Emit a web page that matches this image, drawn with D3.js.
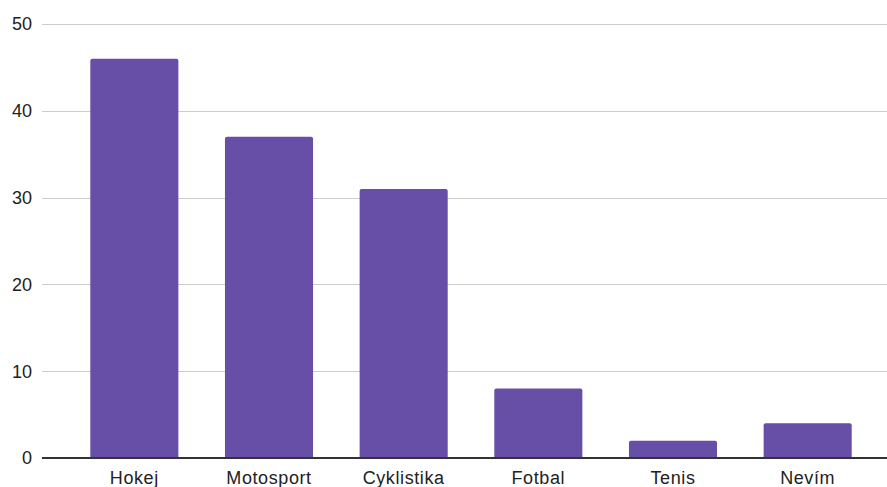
<!DOCTYPE html>
<html>
<head>
<meta charset="utf-8">
<script src="https://cdn.jsdelivr.net/npm/d3@7"></script>
<style>
  body { margin: 0; background: #fff; }
  text { font-family: "Liberation Sans", Arial, sans-serif; fill: #222; }
</style>
</head>
<body>
<div id="chart"></div>
<script>
// data
var categories = ["Hokej", "Motosport", "Cyklistika", "Fotbal", "Tenis", "Nevím"];
var values = [46, 37, 31, 8, 2, 4];
var yTicks = [0, 10, 20, 30, 40, 50];

var W = 887, H = 487;
var left = 42, right = 887, top0 = 24, bottom = 458;

var svg = d3.select("#chart")
  .append("svg")
    .attr("width", W)
    .attr("height", H);

var x = d3.scaleBand()
  .domain(categories)
  .range([67, 875])
  .paddingInner(0.346)
  .paddingOuter(0.173);

var y = d3.scaleLinear()
  .domain([0, 50])
  .range([bottom, top0]);

// gridlines
svg.append("g")
  .selectAll("line")
  .data(yTicks.filter(d => d > 0))
  .enter()
    .append("line")
    .attr("x1", left)
    .attr("x2", right)
    .attr("y1", d => Math.round(y(d)) + 0.5)
    .attr("y2", d => Math.round(y(d)) + 0.5)
    .attr("stroke", "#cccccc")
    .attr("stroke-width", 1);

// y labels
svg.append("g")
  .selectAll("text")
  .data(yTicks)
  .enter()
    .append("text")
    .attr("x", 32)
    .attr("y", d => y(d))
    .attr("dy", "0.35em")
    .attr("text-anchor", "end")
    .style("font-size", "18px")
    .text(d => d);

// bars with slightly rounded tops
function barPath(d, i) {
  var x0 = x(categories[i]), w = x.bandwidth();
  var y0 = y(d), yb = y(0), r = 2;
  return "M" + x0 + "," + yb +
    "V" + (y0 + r) +
    "Q" + x0 + "," + y0 + " " + (x0 + r) + "," + y0 +
    "H" + (x0 + w - r) +
    "Q" + (x0 + w) + "," + y0 + " " + (x0 + w) + "," + (y0 + r) +
    "V" + yb + "Z";
}

svg.append("g")
  .attr("fill", "#674ea7")
  .selectAll("path")
  .data(values)
  .enter()
    .append("path")
    .attr("d", barPath);

// baseline
svg.append("line")
  .attr("x1", left)
  .attr("x2", right)
  .attr("y1", y(0))
  .attr("y2", y(0))
  .attr("stroke", "#333")
  .attr("stroke-width", 2);

// x labels
svg.append("g")
  .selectAll("text")
  .data(categories)
  .enter()
    .append("text")
    .attr("x", d => x(d) + x.bandwidth() / 2)
    .attr("y", 478)
    .attr("dy", "0.35em")
    .attr("text-anchor", "middle")
    .style("font-size", "18px")
    .style("letter-spacing", "0.6px")
    .text(d => d);
</script>
</body>
</html>
